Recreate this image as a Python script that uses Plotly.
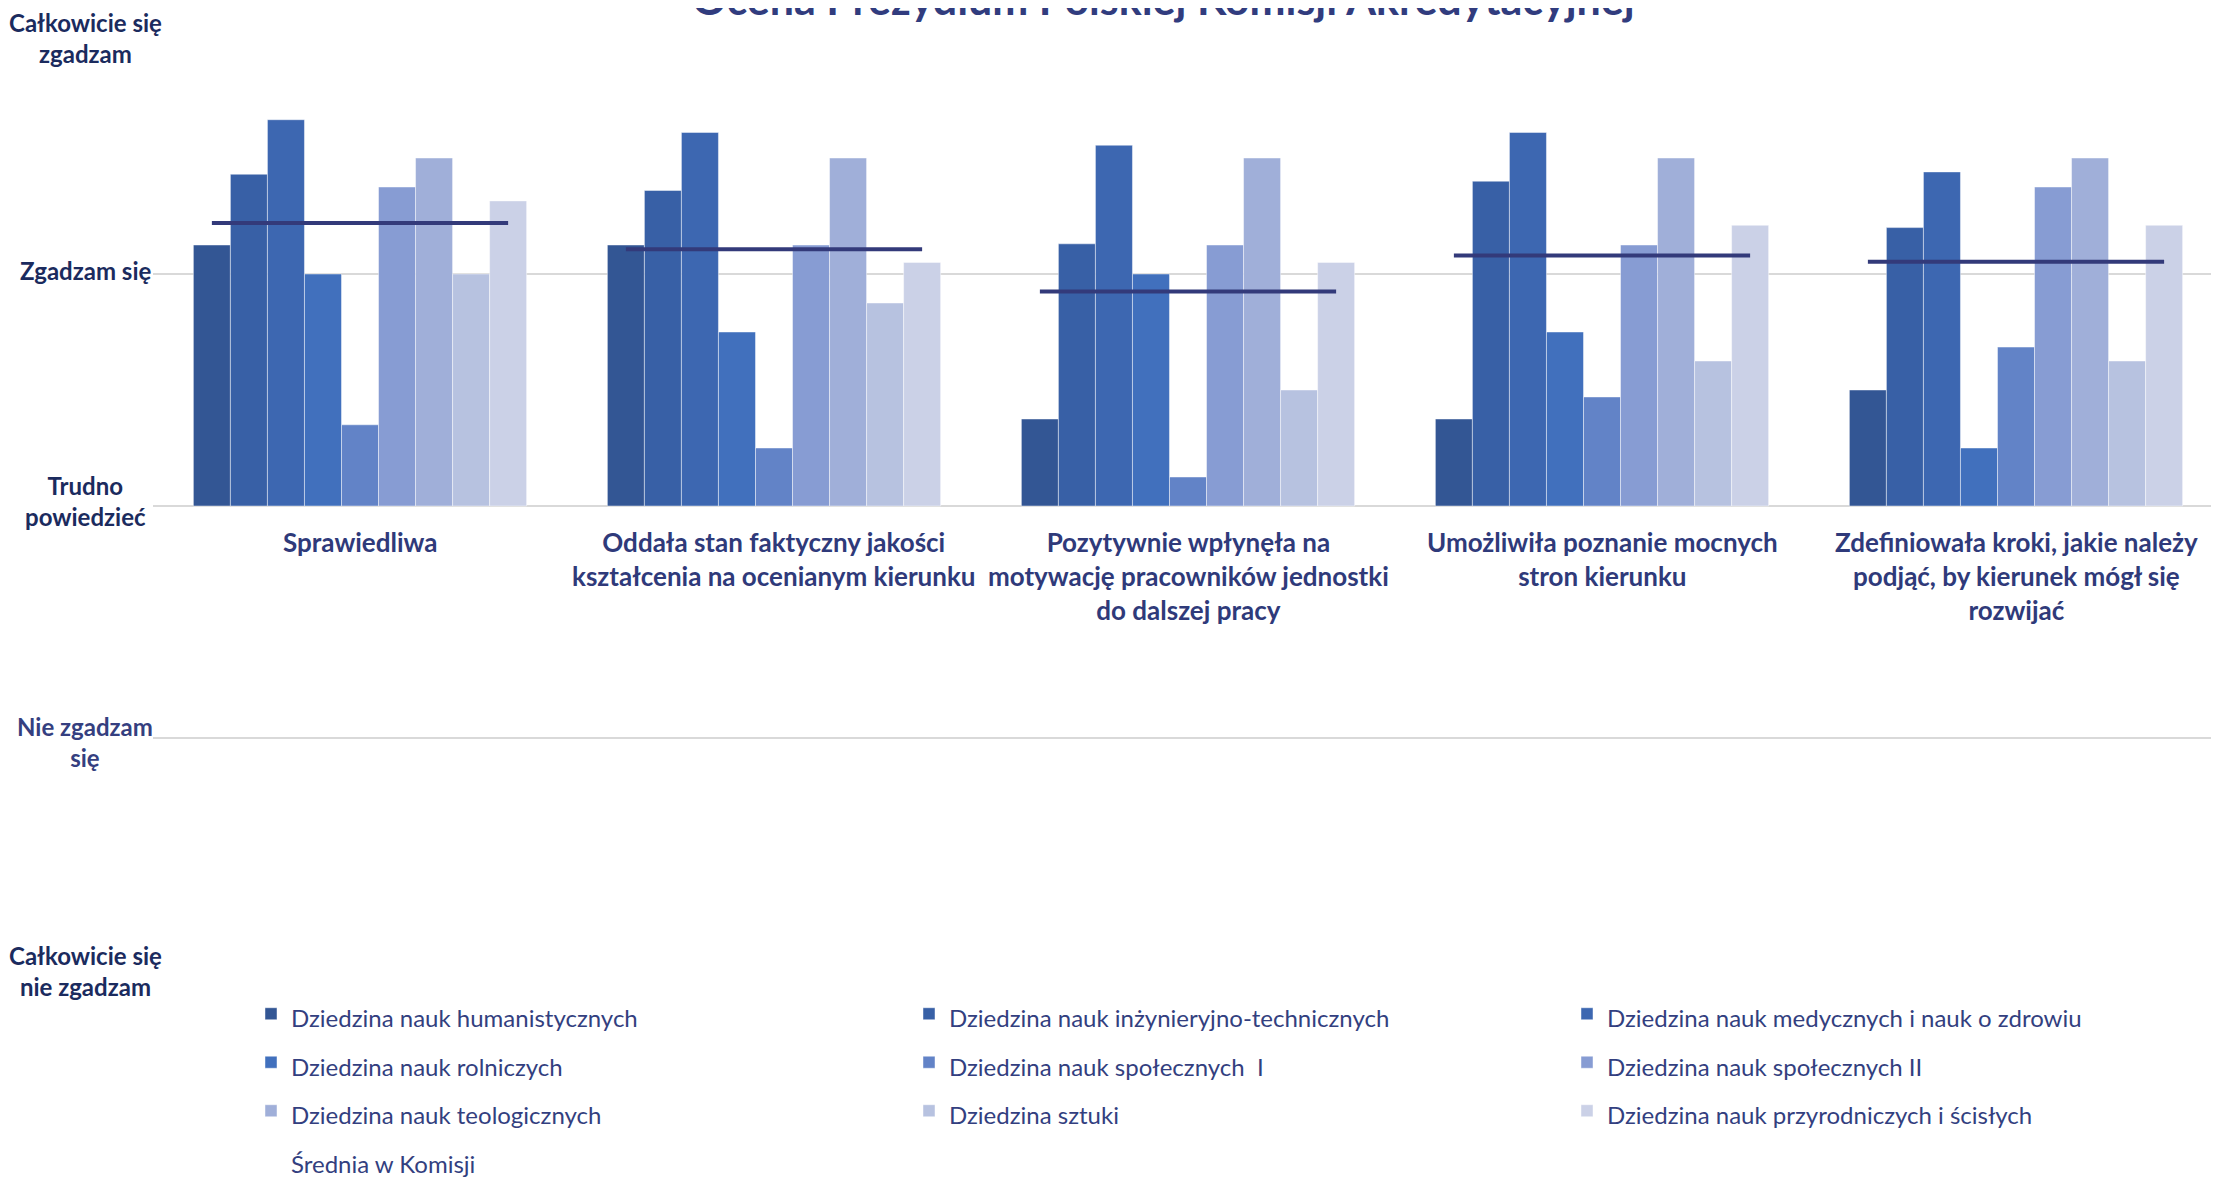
import plotly.graph_objects as go

# ---------------- data ----------------
categories = [
    "Sprawiedliwa",
    "Oddała stan faktyczny jakości<br>kształcenia na ocenianym kierunku",
    "Pozytywnie wpłynęła na<br>motywację pracowników jednostki<br>do dalszej pracy",
    "Umożliwiła poznanie mocnych<br>stron kierunku",
    "Zdefiniowała kroki, jakie należy<br>podjąć, by kierunek mógł się<br>rozwijać",
]

series_names = [
    "Dziedzina nauk humanistycznych",
    "Dziedzina nauk inżynieryjno-technicznych",
    "Dziedzina nauk medycznych i nauk o zdrowiu",
    "Dziedzina nauk rolniczych",
    "Dziedzina nauk społecznych  I",
    "Dziedzina nauk społecznych II",
    "Dziedzina nauk teologicznych",
    "Dziedzina sztuki",
    "Dziedzina nauk przyrodniczych i ścisłych",
]
mean_name = "Średnia w Komisji"

humanistyczne = [1.125, 1.125, 0.375, 0.375, 0.50]
inzynieryjne = [1.43, 1.36, 1.13, 1.40, 1.20]
medyczne = [1.665, 1.61, 1.555, 1.61, 1.44]
rolnicze = [1.0, 0.75, 1.0, 0.75, 0.25]
spoleczne_1 = [0.35, 0.25, 0.125, 0.47, 0.685]
spoleczne_2 = [1.375, 1.125, 1.125, 1.125, 1.375]
teologiczne = [1.5, 1.5, 1.5, 1.5, 1.5]
sztuki = [1.0, 0.875, 0.50, 0.625, 0.625]
przyrodnicze = [1.315, 1.05, 1.05, 1.21, 1.21]
srednia = [1.22, 1.107, 0.925, 1.08, 1.053]

series_values = [humanistyczne, inzynieryjne, medyczne, rolnicze, spoleczne_1,
                 spoleczne_2, teologiczne, sztuki, przyrodnicze]

y_tick_values = [-2, -1, 0, 1, 2]
y_tick_labels = [
    "Całkowicie się<br>nie zgadzam",
    "Nie zgadzam<br>się",
    "Trudno<br>powiedzieć",
    "Zgadzam się",
    "Całkowicie się<br>zgadzam",
]

title_text = "Ocena Prezydium Polskiej Komisji Akredytacyjnej"

# ---------------- style ----------------
colors = ["#335694", "#3860A6", "#3D67B1", "#4170BD", "#6283C7",
          "#879CD3", "#A0AFD9", "#B7C2E0", "#CBD1E7"]
mean_color = "#333A7A"
FONT = "Lato"
PAGE_OFF = 8                      # default body margin of the html page
W, H = 2219 - PAGE_OFF, 1179 - PAGE_OFF
ML, MR, MT = 153 - PAGE_OFF, 0, 42 - PAGE_OFF
plot_bottom = 970.5 - PAGE_OFF
MB = H - plot_bottom
plot_w = W - ML - MR
plot_h = H - MT - MB
cat_spacing_px = 414
bargap = 0.195

fig = go.Figure()
x_pos = list(range(len(categories)))

for name, vals, col in zip(series_names, series_values, colors):
    fig.add_trace(go.Bar(
        x=x_pos, y=vals, name=f'<span style="font-size:24px">{name}</span>',
        marker=dict(color=col, line=dict(color="rgba(255,255,255,0.45)", width=1)),
        hoverinfo="y",
    ))

n_series = len(series_names)
off = (n_series - 1) / 2 * (1 - bargap) / n_series
mx, my = [], []
for i, m in enumerate(srednia):
    mx += [i - off, i + off, None]
    my += [m, m, None]
fig.add_trace(go.Scatter(x=mx, y=my, mode="lines", showlegend=False,
                         line=dict(color=mean_color, width=4), name=mean_name))
# legend entry for the mean (no visible symbol, as in the original)
fig.add_trace(go.Scatter(x=[None], y=[None], mode="lines",
                         name=f'<span style="font-size:24px">{mean_name}</span>',
                         line=dict(color="rgba(0,0,0,0)", width=4)))

x_range = [-0.5, -0.5 + plot_w / cat_spacing_px]

annotations = []
ylab_colors = {-2: "#1B2B5E", -1: "#353F80", 0: "#1B2B5E", 1: "#1B2B5E", 2: "#1B2B5E"}
ylab_shift = {-2: -1, -1: -4, 0: 5, 1: 4, 2: 4}
for v, t in zip(y_tick_values, y_tick_labels):
    annotations.append(dict(
        xref="paper", yref="y", x=(85 - PAGE_OFF - ML) / plot_w, y=v, text=t,
        showarrow=False, xanchor="center", yanchor="middle", align="center",
        yshift=ylab_shift[v],
        font=dict(family=FONT, size=24, color=ylab_colors[v], weight="bold"),
    ))
for i, c in enumerate(categories):
    annotations.append(dict(
        xref="x", yref="y", x=i, y=0, text=c, showarrow=False,
        xanchor="center", yanchor="top", align="center", yshift=-18,
        font=dict(family=FONT, size=26, color="#2F3A7A", weight="bold"),
    ))
annotations.append(dict(
    xref="paper", yref="paper", x=(1163 - PAGE_OFF - ML) / plot_w,
    y=1 + (MT - 18) / plot_h,
    text=title_text, showarrow=False, xanchor="center", yanchor="bottom",
    font=dict(family=FONT, size=43, color="#313C7E", weight="bold"),
))

fig.update_layout(
    width=W, height=H,
    margin=dict(l=ML, r=MR, t=MT, b=MB, pad=0, autoexpand=False),
    paper_bgcolor="white", plot_bgcolor="white",
    barmode="group", bargap=bargap, bargroupgap=0,
    showlegend=True,
    legend=dict(
        orientation="h", x=(262 - PAGE_OFF - 11 - ML) / plot_w, xanchor="left",
        y=-14.5 / plot_h, yanchor="top",
        font=dict(family=FONT, size=35, color="#333F7F"),
        entrywidth=613, entrywidthmode="pixels",
        traceorder="normal",
    ),
    xaxis=dict(range=x_range, showticklabels=False, showgrid=False, zeroline=False,
               showline=False, ticks=""),
    yaxis=dict(range=[-2, 2], tickvals=y_tick_values, showticklabels=False,
               showgrid=True, gridcolor="#D9D9D9", gridwidth=2,
               zeroline=True, zerolinecolor="#D9D9D9", zerolinewidth=2, ticks=""),
    annotations=annotations,
    font=dict(family=FONT),
)

fig.write_html("out.html")
